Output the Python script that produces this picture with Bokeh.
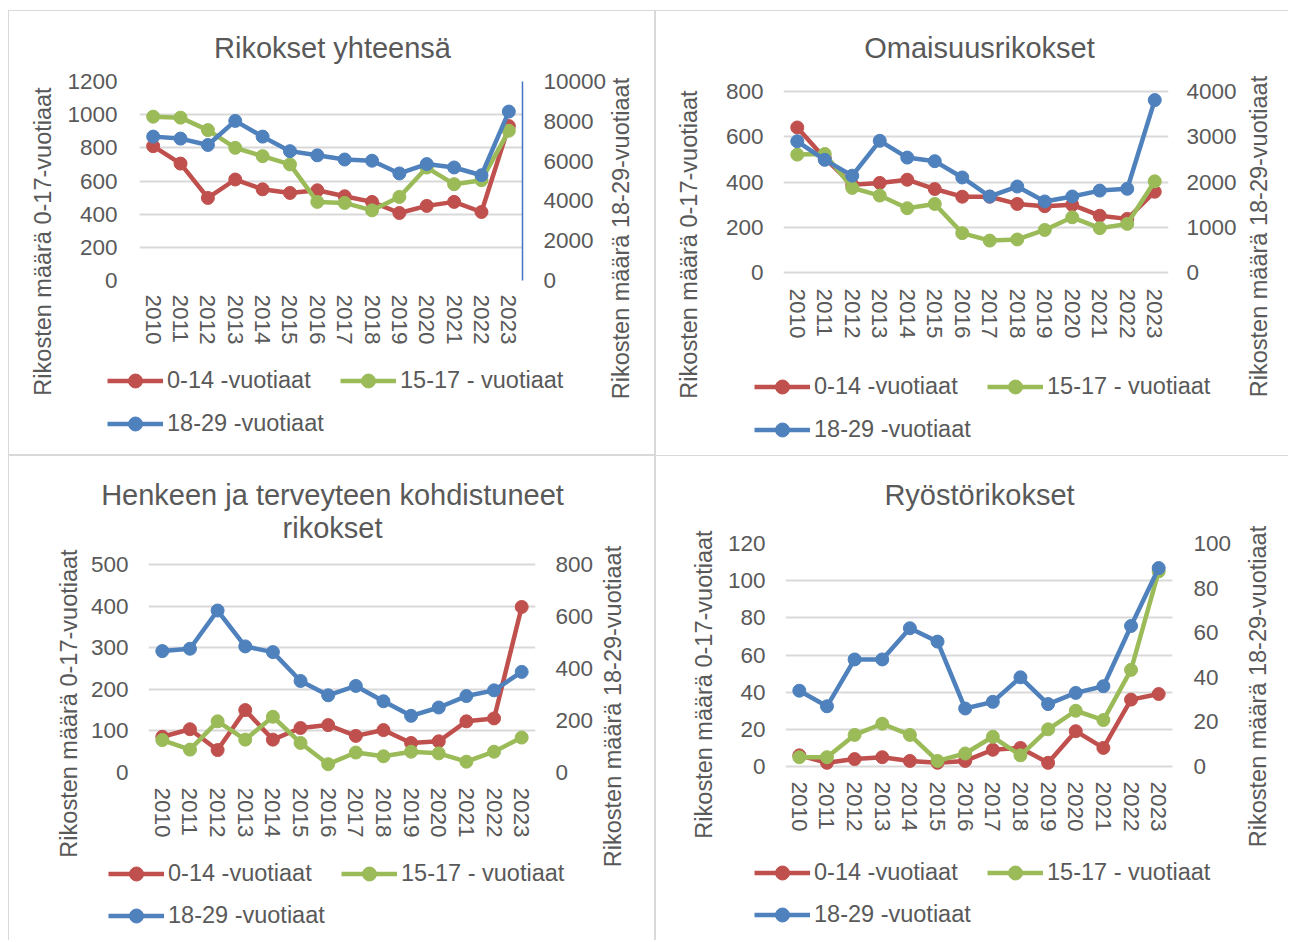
from math import pi
from bokeh.plotting import figure
from bokeh.models import (Range1d, FactorRange, LinearAxis, FixedTicker, Label,
                          Legend, LegendItem, NumeralTickFormatter)
from bokeh.layouts import column, row
from bokeh.embed import file_html
from bokeh.resources import INLINE

# ---------------- data ----------------
years = [str(y) for y in range(2010, 2024)]
series_labels = ["0-14 -vuotiaat", "15-17 - vuotiaat", "18-29 -vuotiaat"]
left_axis_title = "Rikosten määrä 0-17-vuotiaat"
right_axis_title = "Rikosten määrä 18-29-vuotiaat"

# Rikokset yhteensä
tot_0_14 = [810, 705, 498, 609, 550, 528, 544, 508, 474, 407, 450, 474, 413, 931]
tot_15_17 = [988, 982, 907, 800, 750, 700, 474, 468, 423, 504, 681, 581, 605, 903]
tot_18_29 = [7230, 7130, 6810, 8020, 7230, 6500, 6290, 6080, 6020, 5380, 5850, 5680, 5290, 8490]
tot_left_ticks = [0, 200, 400, 600, 800, 1000, 1200]
tot_right_ticks = [0, 2000, 4000, 6000, 8000, 10000]

# Omaisuusrikokset
om_0_14 = [641, 505, 388, 396, 410, 369, 335, 335, 303, 293, 299, 251, 237, 357]
om_15_17 = [521, 524, 374, 340, 284, 303, 174, 141, 146, 188, 244, 196, 215, 403]
om_18_29 = [2900, 2490, 2140, 2910, 2540, 2460, 2100, 1680, 1900, 1570, 1680, 1810, 1850, 3810]
om_left_ticks = [0, 200, 400, 600, 800]
om_right_ticks = [0, 1000, 2000, 3000, 4000]

# Henkeen ja terveyteen kohdistuneet rikokset
he_0_14 = [86, 104, 54, 150, 79, 107, 114, 88, 102, 71, 75, 123, 130, 398]
he_15_17 = [78, 55, 123, 79, 134, 71, 20, 48, 39, 50, 46, 26, 50, 84]
he_18_29 = [467, 476, 623, 485, 463, 352, 297, 333, 274, 218, 250, 294, 316, 387]
he_left_ticks = [0, 100, 200, 300, 400, 500]
he_right_ticks = [0, 200, 400, 600, 800]

# Ryöstörikokset
ry_0_14 = [6, 2, 4, 5, 3, 2, 3, 9, 10, 2, 19, 10, 36, 39]
ry_15_17 = [5, 5, 17, 23, 17, 3, 7, 16, 6, 20, 30, 25, 52, 105]
ry_18_29 = [34, 27, 48, 48, 62, 56, 26, 29, 40, 28, 33, 36, 63, 89]
ry_left_ticks = [0, 20, 40, 60, 80, 100, 120]
ry_right_ticks = [0, 20, 40, 60, 80, 100]

# ---------------- style ----------------
FONT = "Liberation Sans"
TXT = "#595959"
COLORS = ["#C0504D", "#9BBB59", "#4F81BD"]
GRID = "#D9D9D9"
FS = "22.5px"     # tick labels
LFS = "23.5px"    # legend + axis titles
TFS = "29px"      # chart titles

SH = {"l": "inset 1px 0 0 0 #D9D9D9", "t": "inset 0 1px 0 0 #D9D9D9",
      "r": "inset -1px 0 0 0 #D9D9D9", "b": "inset 0 -1px 0 0 #D9D9D9"}


def make_chart(series, lt, rt, geo):
    W, H, fl, fw, ft, fh = geo["box"]
    ext_t, ext_b, data_h = geo["ext"]
    lsc = lt[-1] / data_h
    rsc = rt[-1] / data_h
    p = figure(width=W, height=H, x_range=FactorRange(*years),
               y_range=Range1d(-ext_b * lsc, lt[-1] + ext_t * lsc),
               min_border_left=fl, min_border_right=W - fl - fw,
               min_border_top=ft, min_border_bottom=H - ft - fh,
               output_backend="svg", toolbar_location=None, tools="",
               styles={"box-shadow": ", ".join(SH[k] for k in geo["border"])})
    p.extra_y_ranges = {"right": Range1d(-ext_b * rsc, rt[-1] + ext_t * rsc)}
    p.outline_line_color = None
    p.background_fill_color = None
    p.border_fill_color = None
    p.title.visible = False

    lticker = FixedTicker(ticks=lt)
    yax = p.yaxis[0]
    yax.ticker = lticker
    yax.formatter = NumeralTickFormatter(format="0")
    p.ygrid.ticker = lticker
    p.ygrid.grid_line_color = GRID
    p.ygrid.grid_line_width = 2
    p.xgrid.visible = False

    rax = LinearAxis(y_range_name="right", ticker=FixedTicker(ticks=rt),
                     formatter=NumeralTickFormatter(format="0"))
    p.add_layout(rax, "right")

    xax = p.xaxis[0]
    for ax in [yax, rax, xax]:
        ax.axis_line_color = None
        ax.major_tick_line_color = None
        ax.minor_tick_line_color = None
        ax.major_tick_out = 0
        ax.major_tick_in = 0
        ax.minor_tick_out = 0
        ax.minor_tick_in = 0
        ax.major_label_text_font = FONT
        ax.major_label_text_font_size = FS
        ax.major_label_text_color = TXT
    yax.major_label_standoff = geo["lstand"]
    rax.major_label_standoff = geo["rstand"]
    xax.major_label_orientation = "vertical"
    xax.major_label_standoff = geo["xstand"]
    if geo.get("right_line"):
        rax.axis_line_color = "#4472C4"
        rax.axis_line_width = 1.5

    for s, c, rng in zip(series, COLORS, ["default", "default", "right"]):
        p.line(years, s, line_color=c, line_width=4.5, line_join="round",
               y_range_name=rng)
        p.scatter(years, s, size=13, fill_color=c, line_color=c, y_range_name=rng)
    return p


def make_overlay(series, W, H, ov):
    """Transparent sheet laid over a chart: titles, axis titles and legend."""
    o = figure(width=W, height=H, x_range=FactorRange(*years),
               y_range=Range1d(-2, -1), min_border=0,
               x_axis_location=None, y_axis_location=None,
               output_backend="svg", toolbar_location=None, tools="")
    o.grid.visible = False
    o.outline_line_color = None
    o.background_fill_color = None
    o.border_fill_color = None

    for txt, tx, ty in ov["titles"]:
        o.add_layout(Label(x=tx, y=ty, x_units="screen", y_units="screen", text=txt,
                           text_align="center", text_baseline="middle",
                           text_font=FONT, text_font_size=TFS, text_color=TXT))
    for txt, (tx, ty) in [(left_axis_title, ov["left"]), (right_axis_title, ov["right"])]:
        o.add_layout(Label(x=tx, y=ty, x_units="screen", y_units="screen", text=txt,
                           angle=pi / 2, text_align="center", text_baseline="middle",
                           text_font=FONT, text_font_size=LFS, text_color=TXT))

    items = []
    for s, c, lab in zip(series, COLORS, series_labels):
        l = o.line(years, s, line_color=c, line_width=4.5)
        m = o.scatter(years, s, size=13, fill_color=c, line_color=c)
        items.append(LegendItem(label=lab, renderers=[l, m]))
    lx, y1, y2 = ov["legend"]
    for its, yy in [(items[:2], y1), (items[2:], y2)]:
        o.add_layout(Legend(items=its, location=(lx, yy), orientation="horizontal",
                            label_text_font=FONT, label_text_font_size=LFS,
                            label_text_color=TXT, glyph_width=56, glyph_height=35,
                            label_height=35, label_width=165, label_standoff=4,
                            spacing=8, padding=0, margin=0,
                            border_line_color=None, background_fill_alpha=0))
    return o


g1 = dict(box=(647, 445, 131, 383, 71, 199), ext=(0, 0, 199), border="ltrb",
          lstand=22, rstand=21, xstand=14, right_line=True)
g2 = dict(box=(633, 445, 128, 385, 71, 199), ext=(10, 8, 181), border="lt",
          lstand=20, rstand=18, xstand=8)
g3 = dict(box=(647, 485, 140, 387, 88, 229), ext=(21, 0, 208), border="ltr",
          lstand=20, rstand=20, xstand=15)
g4 = dict(box=(633, 485, 130, 387, 88, 229), ext=(0, 6, 223), border="lt",
          lstand=20, rstand=21, xstand=9)

o1 = dict(titles=[("Rikokset yhteensä", 324, 408)], left=(34, 214), right=(612, 217),
          legend=(99, 57, 14))
o2 = dict(titles=[("Omaisuusrikokset", 324, 408)], left=(33, 211), right=(603, 219),
          legend=(99, 51, 8))
o3 = dict(titles=[("Henkeen ja terveyteen kohdistuneet", 324, 446), ("rikokset", 324, 413)],
          left=(60, 237), right=(604, 234), legend=(100, 49, 7))
o4 = dict(titles=[("Ryöstörikokset", 324, 446)], left=(48, 256), right=(602, 254),
          legend=(99, 50, 8))

s1 = [tot_0_14, tot_15_17, tot_18_29]
s2 = [om_0_14, om_15_17, om_18_29]
s3 = [he_0_14, he_15_17, he_18_29]
s4 = [ry_0_14, ry_15_17, ry_18_29]

p1 = make_chart(s1, tot_left_ticks, tot_right_ticks, g1)
p2 = make_chart(s2, om_left_ticks, om_right_ticks, g2)
p3 = make_chart(s3, he_left_ticks, he_right_ticks, g3)
p4 = make_chart(s4, ry_left_ticks, ry_right_ticks, g4)

v1 = make_overlay(s1, 647, 445, o1)
v2 = make_overlay(s2, 633, 445, o2)
v3 = make_overlay(s3, 647, 485, o3)
v4 = make_overlay(s4, 633, 485, o4)

layout = column(row(p1, p2), row(v1, v2, margin=(-445, 0, 0, 0)),
                row(p3, p4), row(v3, v4, margin=(-485, 0, 0, 0)),
                margin=(10, 0, 0, 8))
open("out.html", "w").write(file_html(layout, INLINE))
